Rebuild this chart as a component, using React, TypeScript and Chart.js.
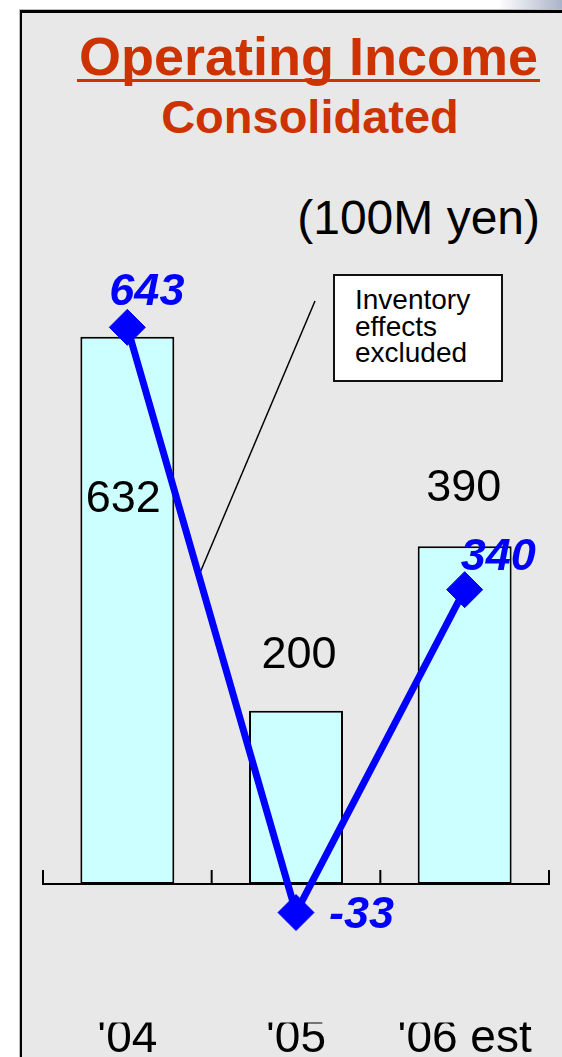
import React, { useEffect, useRef } from "react";
import { Chart, registerables } from "chart.js";

Chart.register(...registerables);

// ---- data ----
const categories = ["'04", "'05", "'06 est"];
const operatingIncome = [632, 200, 390];
const excludingInventory = [643, -33, 340];
const barLabels = ["632", "200", "390"];
const lineLabels = ["643", "-33", "340"];

// ---- style constants ----
const FONT = '"Liberation Sans", Arial, Helvetica, sans-serif';
const BLUE = "#0000ff";
const RED = "#cc3300";
const BAR_FILL = "#ccffff";
// [center-x offset, baseline offset from bar top]
const BAR_LABEL_OFFSETS = [
  [-4, 175],
  [3, -43],
  [-1, -45],
];
// [left-x offset, baseline offset from point]
const LINE_LABEL_OFFSETS = [
  [-18, -22],
  [33, 15],
  [-4, -20],
];
const LEADER_START = [315, 301];
const LEADER_T = 0.424;

const overlayPlugin = {
  id: "overlay",
  beforeDatasetsDraw(chart: any) {
    const ctx = chart.ctx;
    const meta = chart.getDatasetMeta(0);
    const p0 = meta.data[0];
    const p1 = meta.data[1];
    const ex = p0.x + (p1.x - p0.x) * LEADER_T;
    const ey = p0.y + (p1.y - p0.y) * LEADER_T;
    ctx.save();
    ctx.strokeStyle = "#000";
    ctx.lineWidth = 1.5;
    ctx.beginPath();
    ctx.moveTo(LEADER_START[0], LEADER_START[1]);
    ctx.lineTo(ex, ey);
    ctx.stroke();
    ctx.restore();
  },
  beforeDatasetDraw(chart: any, args: any) {
    if (args.index !== 0) return;
    const ctx = chart.ctx;
    const xs = chart.scales.x;
    const ys = chart.scales.y;
    const y0 = ys.getPixelForValue(0);
    const half = (xs.getPixelForValue(1) - xs.getPixelForValue(0)) / 2;
    const left = xs.getPixelForValue(0) - half;
    const right = xs.getPixelForValue(categories.length - 1) + half;
    ctx.save();
    ctx.strokeStyle = "#000";
    ctx.lineWidth = 2;
    ctx.beginPath();
    ctx.moveTo(left - 1, y0);
    ctx.lineTo(right + 1, y0);
    for (let i = 0; i <= categories.length; i++) {
      const bx = left + 2 * half * i;
      ctx.moveTo(bx, y0);
      ctx.lineTo(bx, y0 - 14);
    }
    ctx.stroke();
    ctx.restore();
  },
  afterDatasetsDraw(chart: any) {
    const ctx = chart.ctx;
    const barMeta = chart.getDatasetMeta(1);
    const lineMeta = chart.getDatasetMeta(0);
    ctx.save();
    ctx.textBaseline = "alphabetic";
    ctx.fillStyle = "#000";
    ctx.textAlign = "center";
    ctx.font = `45px ${FONT}`;
    barMeta.data.forEach((bar: any, i: number) => {
      const [dx, dy] = BAR_LABEL_OFFSETS[i];
      ctx.fillText(barLabels[i], bar.x + dx, bar.y + dy);
    });
    ctx.fillStyle = BLUE;
    ctx.textAlign = "left";
    ctx.font = `italic bold 45px ${FONT}`;
    lineMeta.data.forEach((pt: any, i: number) => {
      const [dx, dy] = LINE_LABEL_OFFSETS[i];
      ctx.fillText(lineLabels[i], pt.x + dx, pt.y + dy);
    });
    ctx.restore();
  },
};

export default function App() {
  const canvasRef = useRef<HTMLCanvasElement | null>(null);

  useEffect(() => {
    if (!canvasRef.current) return;
    const chart = new Chart(canvasRef.current, {
      type: "bar",
      data: {
        labels: categories,
        datasets: [
          {
            type: "line",
            label: "Inventory effects excluded",
            data: excludingInventory,
            borderColor: BLUE,
            backgroundColor: BLUE,
            borderWidth: 7,
            pointStyle: "rectRot",
            pointRadius: 18,
            pointBackgroundColor: BLUE,
            pointBorderColor: BLUE,
            pointBorderWidth: 1,
            tension: 0,
            clip: false,
          } as any,
          {
            type: "bar",
            label: "Operating income",
            data: operatingIncome,
            backgroundColor: BAR_FILL,
            borderColor: "#000",
            borderWidth: 2,
            borderSkipped: false,
            barPercentage: 0.557,
            categoryPercentage: 1,
          } as any,
        ],
      },
      options: {
        animation: false,
        responsive: false,
        events: [],
        layout: { autoPadding: false, padding: { left: 43, right: 13, top: 278, bottom: 0 } },
        plugins: {
          legend: { display: false },
          tooltip: { enabled: false },
        },
        scales: {
          x: {
            offset: true,
            grid: { display: false, drawTicks: false },
            border: { display: false },
            ticks: {
              color: "#000",
              padding: 0,
              font: { family: FONT, size: 46, lineHeight: 0.75 },
            },
            afterFit: (scale: any) => {
              scale.paddingLeft = 0;
              scale.paddingRight = 0;
            },
          },
          y: {
            display: false,
            min: -160,
            max: 700,
          },
        },
      },
      plugins: [overlayPlugin],
    });
    return () => chart.destroy();
  }, []);

  const abs: React.CSSProperties = { position: "absolute", whiteSpace: "nowrap" };

  return (
    <div
      style={{
        position: "absolute",
        left: 0,
        top: 0,
        width: 562,
        height: 1057,
        overflow: "hidden",
        background: "#fff",
        fontFamily: FONT,
      }}
    >
      <div
        style={{
          ...abs,
          left: 420,
          top: 0,
          width: 142,
          height: 10,
          background: "linear-gradient(to right, #ffffff 0%, #ffffff 55%, #aab4c8 100%)",
        }}
      />
      <div
        style={{
          ...abs,
          left: 19,
          top: 9,
          right: -30,
          bottom: -30,
          borderLeft: "1px solid #bdbdbd",
          borderTop: "1px solid #bdbdbd",
        }}
      >
        <div
          style={{
            position: "absolute",
            inset: 0,
            borderLeft: "2px solid #000",
            borderTop: "3px solid #000",
            background: "#e8e8e8",
          }}
        />
      </div>
      <div
        style={{
          ...abs,
          left: 8.5,
          top: 29.3,
          width: 600,
          textAlign: "center",
          fontSize: 54,
          lineHeight: 1,
          fontWeight: "bold",
          color: RED,
        }}
      >
        Operating Income
      </div>
      <div style={{ ...abs, left: 77, top: 79, width: 463, height: 3, background: RED }} />
      <div
        style={{
          ...abs,
          left: 10,
          top: 93.2,
          width: 600,
          textAlign: "center",
          fontSize: 47,
          lineHeight: 1,
          fontWeight: "bold",
          color: RED,
        }}
      >
        Consolidated
      </div>
      <div
        style={{
          ...abs,
          left: 0,
          top: 194,
          width: 540,
          textAlign: "right",
          fontSize: 48,
          lineHeight: 1,
          color: "#000",
        }}
      >
        (100M yen)
      </div>
      <div
        style={{
          ...abs,
          left: 333,
          top: 274,
          width: 170,
          height: 108,
          boxSizing: "border-box",
          border: "2px solid #111",
          background: "#fff",
          padding: "11px 0 0 20px",
          fontSize: 28,
          lineHeight: "26.5px",
          color: "#000",
          whiteSpace: "normal",
        }}
      >
        Inventory
        <br />
        effects
        <br />
        excluded
      </div>
      <canvas
        ref={canvasRef}
        width={562}
        height={1057}
        style={{ position: "absolute", left: 0, top: 0, width: 562, height: 1057 }}
      />
    </div>
  );
}
